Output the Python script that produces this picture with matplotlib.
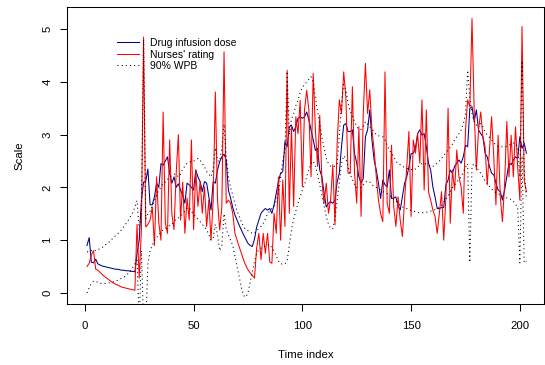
import numpy as np
import matplotlib
matplotlib.use('Agg')
import matplotlib.pyplot as plt

plt.rcParams['font.family'] = ['Liberation Sans', 'DejaVu Sans']

# dawka leku (niebieska linia), t = 1..203
dose = [
    0.90, 1.05, 0.58, 0.57, 0.64, 0.55, 0.53, 0.51, 0.50, 0.49,
    0.48, 0.47, 0.46, 0.45, 0.45, 0.44, 0.43, 0.43, 0.42, 0.42,
    0.41, 0.41, 0.40, 0.75, 1.00, 1.75, 2.10, 2.12, 2.35, 1.67,
    1.67, 1.82, 2.08, 2.00, 2.45, 2.42, 2.50, 2.58, 2.27, 2.08,
    2.20, 2.00, 2.07, 1.95, 1.85, 1.70, 2.08, 2.05, 2.00, 1.95,
    2.33, 2.20, 2.11, 1.92, 2.11, 2.08, 1.82, 1.57, 2.11, 2.08,
    2.33, 2.49, 2.58, 2.63, 2.52, 1.95, 1.80, 1.62, 1.48, 1.38,
    1.28, 1.19, 1.10, 1.02, 0.94, 0.90, 0.88, 1.02, 1.25, 1.38,
    1.51, 1.56, 1.60, 1.57, 1.60, 1.51, 1.67, 1.89, 2.11, 2.27,
    2.30, 2.87, 2.77, 3.15, 3.18, 3.06, 3.15, 3.31, 3.34, 3.31,
    3.34, 3.43, 3.28, 3.09, 2.90, 2.70, 2.74, 2.33, 2.20, 1.89,
    1.63, 1.70, 1.73, 1.70, 1.76, 2.10, 2.27, 2.77, 3.18, 3.21,
    3.06, 3.06, 3.09, 2.64, 2.46, 2.20, 2.08, 2.17, 2.96, 3.09,
    3.47, 2.90, 2.52, 2.33, 2.08, 1.79, 2.14, 2.05, 2.01, 2.33,
    1.79, 1.80, 1.82, 1.65, 1.57, 1.82, 2.08, 2.20, 2.39, 2.64,
    2.65, 2.75, 3.02, 3.09, 2.99, 3.02, 2.77, 2.46, 2.33, 2.01,
    1.82, 1.60, 1.60, 1.62, 1.62, 2.05, 2.14, 2.33, 2.27, 2.40,
    2.46, 2.52, 2.46, 2.58, 2.80, 2.77, 3.50, 3.53, 3.25, 3.47,
    3.09, 3.02, 2.96, 2.65, 2.58, 2.40, 2.27, 2.24, 2.08, 1.95,
    1.92, 1.76, 1.95, 2.20, 2.46, 2.43, 2.52, 2.58, 2.55, 2.96,
    2.74, 2.84, 2.65,
]

# ocena pielegniarek (czerwona linia)
rating = [
    0.50, 0.56, 0.72, 0.80, 0.45, 0.43, 0.39, 0.35, 0.31, 0.28,
    0.25, 0.22, 0.19, 0.17, 0.15, 0.13, 0.11, 0.10, 0.09, 0.08,
    0.07, 0.06, 0.05, 1.30, 0.28, 1.20, 4.85, 1.25, 1.30, 1.38,
    1.63, 0.90, 2.20, 1.33, 1.00, 3.43, 1.33, 1.13, 2.90, 1.50,
    1.20, 2.27, 3.00, 1.38, 2.10, 1.13, 1.80, 1.38, 2.90, 1.20,
    2.33, 1.64, 2.11, 1.51, 2.01, 1.26, 1.76, 1.00, 1.76, 3.81,
    1.76, 1.19, 1.64, 4.57, 1.70, 1.76, 1.70, 1.51, 1.13, 1.00,
    0.87, 0.75, 0.62, 0.52, 0.44, 0.38, 0.33, 0.28, 0.85, 1.13,
    0.63, 1.13, 0.75, 1.13, 0.59, 0.56, 1.51, 1.13, 2.20, 1.00,
    2.14, 1.26, 4.22, 1.51, 3.15, 1.64, 3.34, 3.02, 3.65, 2.01,
    3.47, 3.84, 3.47, 2.20, 4.16, 3.09, 2.40, 3.37, 2.11, 1.70,
    2.08, 1.51, 1.76, 2.43, 1.29, 2.83, 3.66, 3.40, 4.19, 3.72,
    2.27, 2.27, 3.91, 2.27, 1.70, 3.15, 1.45, 3.40, 4.35, 3.40,
    3.85, 3.09, 2.71, 2.20, 1.76, 1.50, 1.35, 4.19, 1.70, 1.51,
    2.80, 1.64, 1.26, 1.82, 1.38, 1.07, 1.76, 2.39, 3.06, 1.45,
    2.90, 2.65, 3.02, 2.46, 3.66, 1.95, 3.47, 1.92, 1.76, 1.57,
    1.45, 1.13, 1.51, 1.92, 1.00, 1.82, 3.50, 1.32, 2.33, 1.95,
    2.71, 2.20, 2.01, 1.51, 3.09, 3.66, 3.53, 5.20, 3.47, 2.33,
    3.09, 3.43, 2.96, 2.77, 2.05, 2.71, 3.34, 2.58, 1.67, 2.99,
    1.82, 1.35, 2.08, 3.25, 2.20, 2.99, 2.20, 3.15, 2.39, 1.76,
    5.05, 2.14, 1.92,
]

# 90% WPB - gorna i dolna granica
wpb_upper = [
    0.78, 0.78, 0.80, 0.82, 0.80, 0.82, 0.84, 0.86, 0.90, 0.93,
    0.96, 1.00, 1.04, 1.08, 1.12, 1.16, 1.20, 1.26, 1.32, 1.38,
    1.45, 1.52, 1.62, 1.75, 1.20, 1.60, 4.80, 1.40, 1.50, 1.55,
    1.65, 1.75, 1.85, 1.95, 2.00, 2.08, 2.10, 2.15, 2.20, 2.22,
    2.25, 2.25, 2.20, 2.25, 2.35, 2.40, 2.46, 2.48, 2.50, 2.50,
    2.52, 2.55, 2.52, 2.45, 2.40, 2.30, 2.25, 2.20, 2.35, 2.75,
    2.50, 2.50, 2.75, 3.20, 2.60, 2.20, 2.00, 1.85, 1.70, 1.55,
    1.45, 1.35, 1.25, 1.20, 1.18, 1.15, 1.13, 1.13, 1.18, 1.22,
    1.26, 1.32, 1.40, 1.50, 1.55, 1.60, 1.64, 1.75, 1.90, 2.20,
    2.50, 2.70, 4.20, 3.00, 3.30, 3.40, 3.55, 3.65, 3.80, 3.90,
    3.95, 4.00, 4.05, 4.10, 4.00, 3.70, 3.45, 3.20, 2.95, 2.75,
    2.55, 2.45, 2.40, 2.40, 2.40, 2.45, 3.00, 3.60, 3.95, 3.85,
    3.60, 3.45, 3.35, 3.25, 3.15, 3.10, 3.10, 3.15, 3.25, 3.20,
    3.15, 3.10, 3.06, 3.00, 2.98, 2.96, 2.96, 2.90, 2.80, 2.70,
    2.65, 2.58, 2.50, 2.45, 2.43, 2.40, 2.38, 2.36, 2.35, 2.34,
    2.33, 2.35, 2.38, 2.43, 2.45, 2.46, 2.44, 2.42, 2.40, 2.40,
    2.42, 2.46, 2.50, 2.55, 2.60, 2.66, 2.71, 2.76, 2.82, 2.90,
    2.96, 3.02, 3.09, 3.20, 3.40, 4.22, 3.70, 3.40, 3.25, 3.18,
    3.20, 3.21, 3.15, 3.05, 3.00, 2.95, 2.90, 2.85, 2.80, 2.78,
    2.77, 2.77, 2.77, 2.78, 2.80, 2.82, 2.84, 2.84, 2.75, 2.20,
    4.40, 2.30, 1.80,
]

wpb_lower = [
    0.00, 0.10, 0.18, 0.22, 0.22, 0.20, 0.18, 0.18, 0.18, 0.18,
    0.19, 0.20, 0.21, 0.22, 0.24, 0.26, 0.28, 0.30, 0.33, 0.37,
    0.42, 0.48, 0.55, 0.62, -0.60, 0.80, -0.60, -0.60, 0.55, 0.80,
    0.90, 1.00, 1.05, 1.10, 1.15, 1.20, 1.22, 1.25, 1.28, 1.30,
    1.35, 1.40, 1.42, 1.45, 1.50, 1.55, 1.60, 1.62, 1.55, 1.48,
    1.45, 1.40, 1.35, 1.30, 1.25, 1.20, 1.10, 1.00, 1.05, 1.30,
    1.10, 0.80, 0.90, 1.50, 1.20, 1.10, 1.00, 0.90, 0.70, 0.50,
    0.30, 0.10, -0.05, -0.08, 0.00, 0.20, 0.40, 0.60, 0.75, 0.82,
    0.85, 0.88, 0.88, 0.90, 0.92, 0.85, 0.80, 0.70, 0.60, 0.55,
    0.55, 0.55, 0.60, 0.90, 1.20, 1.40, 1.55, 1.70, 1.82, 1.95,
    2.05, 2.20, 2.35, 2.45, 2.50, 2.40, 2.25, 2.05, 1.85, 1.65,
    1.45, 1.30, 1.22, 1.22, 1.40, 1.75, 2.10, 2.45, 2.60, 2.55,
    2.40, 2.25, 2.15, 2.05, 2.00, 1.98, 2.00, 2.05, 2.10, 2.12,
    2.10, 2.05, 2.02, 2.00, 1.98, 1.95, 1.92, 1.90, 1.88, 1.85,
    1.82, 1.78, 1.75, 1.70, 1.66, 1.63, 1.61, 1.60, 1.58, 1.56,
    1.55, 1.54, 1.53, 1.52, 1.52, 1.52, 1.53, 1.54, 1.55, 1.57,
    1.58, 1.60, 1.62, 1.66, 1.72, 1.78, 1.84, 1.92, 2.00, 2.05,
    2.10, 2.15, 2.20, 2.28, 2.38, 2.45, 0.58, 2.40, 2.45, 2.40,
    2.32, 2.27, 2.20, 2.12, 2.08, 2.02, 1.97, 1.93, 1.90, 1.88,
    1.86, 1.84, 1.82, 1.80, 1.79, 1.77, 1.74, 1.68, 1.62, 0.57,
    2.60, 0.57, 0.60,
]

x_ticks = [0, 50, 100, 150, 200]
y_ticks = [0, 1, 2, 3, 4, 5]
labels = ['Drug infusion dose', "Nurses' rating", '90% WPB']

t = np.arange(1, len(dose) + 1)

fig = plt.figure(figsize=(5.45, 3.65), dpi=100)
ax = fig.add_axes([67 / 545, 61 / 365, 477 / 545, 297 / 365])

dotted = (0, (1, 3))
l1, = ax.plot(t, dose, color='#00008B', lw=0.75)
l2, = ax.plot(t, rating, color='red', lw=0.75)
l3, = ax.plot(t, wpb_upper, color='black', lw=0.75, ls=dotted)
ax.plot(t, wpb_lower, color='black', lw=0.75, ls=dotted)

ax.set_xlim(-8.2, 211.1)
ax.set_ylim(-0.21, 5.42)

ax.set_xticks(x_ticks)
ax.set_yticks(y_ticks)
ax.set_yticklabels([str(v) for v in y_ticks], rotation=90, va='center')
ax.tick_params(direction='out', length=5, width=0.75, labelsize=8.2)
ax.tick_params(axis='x', pad=7)
ax.tick_params(axis='y', pad=5.5)
for s in ax.spines.values():
    s.set_linewidth(0.75)

ax.set_xlabel('Time index', fontsize=8.2)
ax.set_ylabel('Scale', fontsize=8.2)
ax.xaxis.set_label_coords(0.5, -0.155)
ax.yaxis.set_label_coords(-0.089, 0.5)

ax.legend([l1, l2, l3], labels, loc='upper left',
          bbox_to_anchor=(117.3 / 545, 1 - 38 / 365), bbox_transform=fig.transFigure,
          frameon=False, fontsize=7.5, handlelength=2.1, handletextpad=1.0,
          labelspacing=0.15, borderpad=0, borderaxespad=0)

fig.savefig('out.png', dpi=100)
